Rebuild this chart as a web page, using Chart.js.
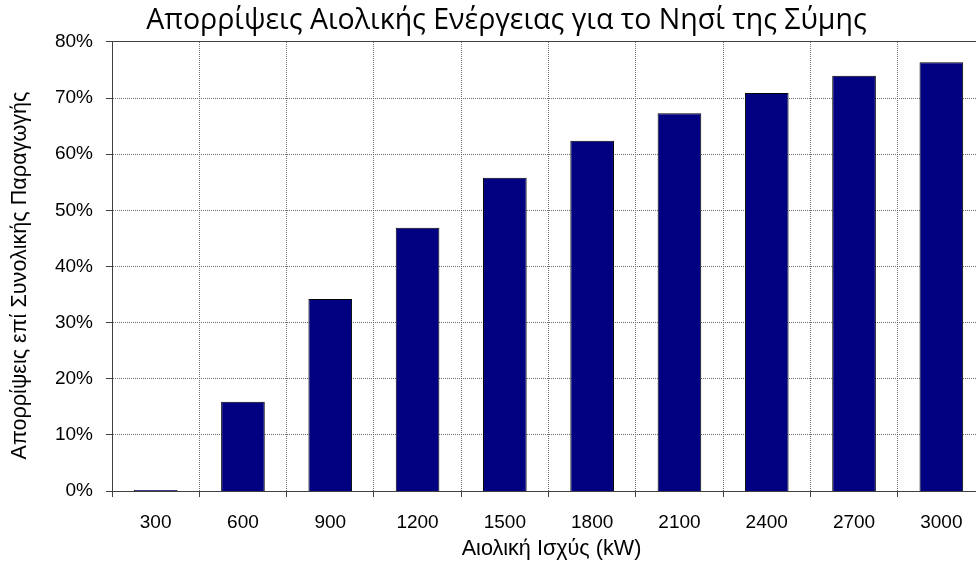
<!DOCTYPE html>
<html lang="el">
<head>
<meta charset="utf-8">
<title>Απορρίψεις Αιολικής Ενέργειας</title>
<script src="https://cdn.jsdelivr.net/npm/chart.js@4/dist/chart.umd.min.js"></script>
<style>
  html, body { margin: 0; padding: 0; background: #ffffff; overflow: hidden; }
  #wrap { position: relative; width: 1024px; height: 564px; }
</style>
</head>
<body>
<div id="wrap"><canvas id="chart"></canvas></div>
<script>
// Installed wind power (kW) on Symi and the share of production that is curtailed (%)
const powerKW = ['300', '600', '900', '1200', '1500', '1800', '2100', '2400', '2700', '3000'];
const curtailmentPct = [0.2, 15.9, 34.2, 46.9, 55.8, 62.4, 67.3, 70.9, 74.0, 76.4];
const yTicks = [0, 10, 20, 30, 40, 50, 60, 70, 80];

const chartTitle = 'Απορρίψεις Αιολικής Ενέργειας για το Νησί της Σύμης';
const xTitle = '\u00a0Αιολική Ισχύς (kW)';
const yTitle = 'Απορρίψεις επί Συνολικής Παραγωγής\u00a0\u00a0\u00a0';

const textFont = "'Liberation Sans', Arial, sans-serif";
const gridColor = '#6e6e6e';
const axisColor = '#404040';

new Chart(document.getElementById('chart'), {
  type: 'bar',
  data: {
    labels: powerKW,
    datasets: [{
      data: curtailmentPct,
      backgroundColor: '#000080',
      borderColor: '#000000',
      borderWidth: 1,
      categoryPercentage: 1.0,
      barPercentage: 0.5
    }]
  },
  options: {
    responsive: true,
    maintainAspectRatio: false,
    animation: false,
    layout: { padding: { left: 0, right: 11, top: 0, bottom: 0 } },
    plugins: {
      legend: { display: false },
      tooltip: { enabled: false },
      title: {
        display: true,
        text: chartTitle,
        color: '#000000',
        font: { family: "'Open Sans', sans-serif", size: 28.5, weight: 'normal', lineHeight: 1.2 },
        padding: { top: 3.3, bottom: 4.5 }
      }
    },
    scales: {
      x: {
        type: 'category',
        offset: true,
        grid: {
          display: true,
          offset: true,
          color: gridColor,
          lineWidth: 1,
          drawTicks: true,
          tickLength: 6,
          tickColor: axisColor,
          tickBorderDash: []
        },
        border: { display: true, color: axisColor, width: 1, dash: [1, 1] },
        ticks: {
          color: '#000000',
          padding: 14,
          maxRotation: 0,
          autoSkip: false,
          font: { family: textFont, size: 19 }
        },
        title: {
          display: true,
          text: xTitle,
          color: '#000000',
          font: { family: textFont, size: 21.6 },
          padding: { top: 0, bottom: 2 }
        },
        afterFit: (scale) => { scale.height = 73; }
      },
      frameTop: {
        type: 'category',
        position: 'top',
        labels: powerKW,
        grid: { display: false, drawTicks: false },
        border: { display: true, color: axisColor, width: 1 },
        ticks: { display: false }
      },
      rightMargin: {
        type: 'linear',
        position: 'right',
        grid: { display: false, drawTicks: false },
        border: { display: false },
        ticks: { display: false },
        afterFit: (scale) => { scale.width = 28; }
      },
      y: {
        min: 0,
        max: 80,
        afterBuildTicks: (scale) => { scale.ticks = yTicks.map(v => ({ value: v })); },
        grid: {
          color: gridColor,
          lineWidth: 1,
          drawTicks: true,
          tickLength: 6,
          tickColor: axisColor,
          tickBorderDash: []
        },
        border: { display: true, color: axisColor, width: 1, dash: [1, 1] },
        ticks: {
          color: '#000000',
          padding: 13,
          font: { family: textFont, size: 19 },
          callback: (v) => v + '%'
        },
        title: {
          display: true,
          text: yTitle,
          color: '#000000',
          font: { family: textFont, size: 21.6 },
          padding: { top: 6.7, bottom: 0 }
        },
        afterFit: (scale) => { scale.width = 112; }
      }
    }
  }
});
</script>
</body>
</html>
